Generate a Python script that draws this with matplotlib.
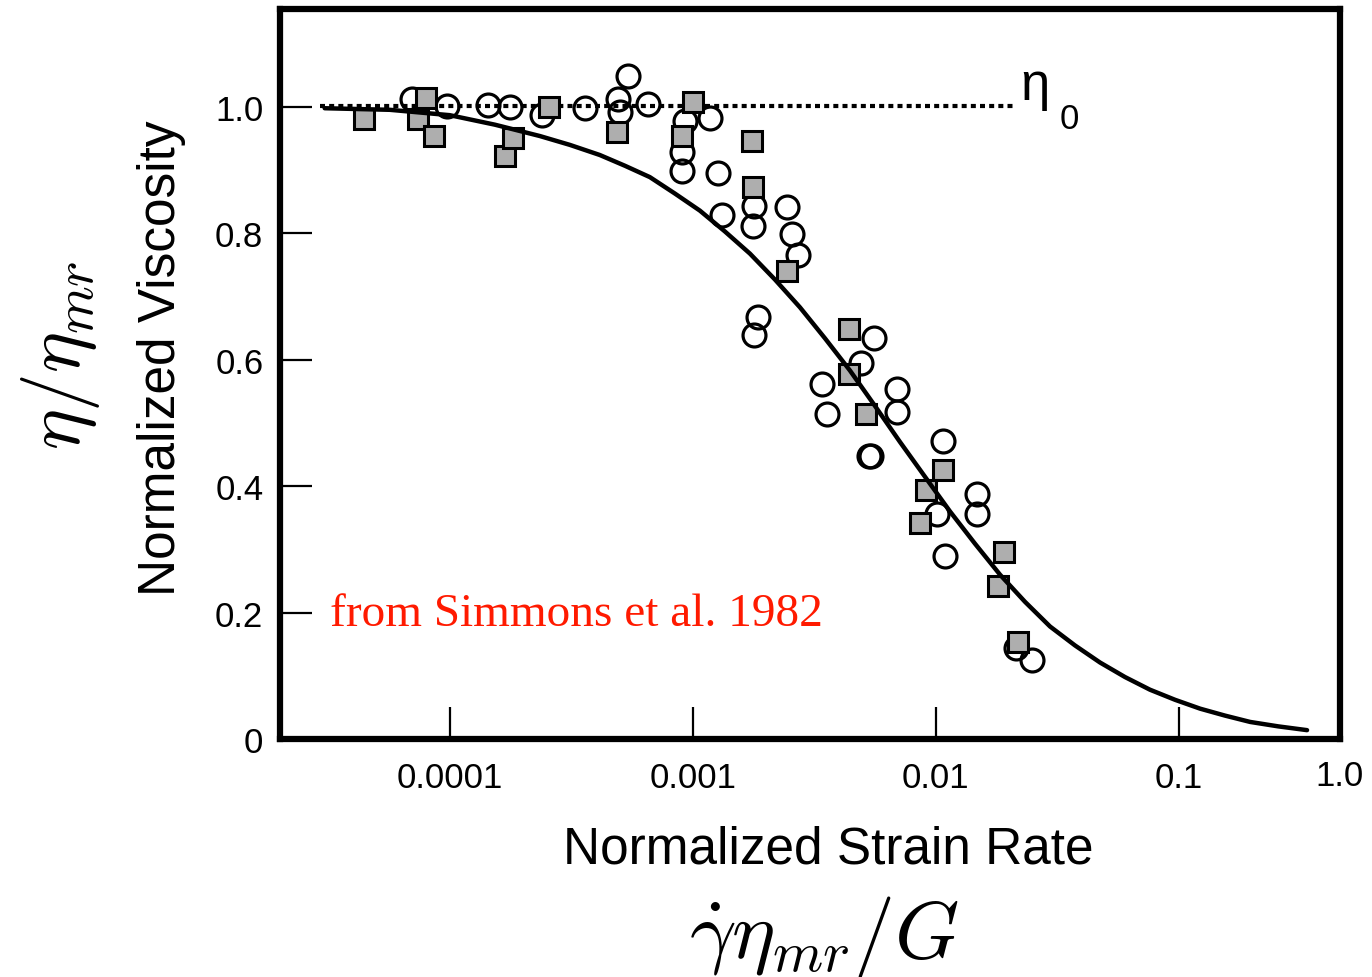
import matplotlib
matplotlib.use("Agg")
import matplotlib.pyplot as plt
import matplotlib.transforms as mtransforms

plt.rcParams['font.family'] = ['Liberation Sans', 'DejaVu Sans']
plt.rcParams['mathtext.fontset'] = 'cm'

# open circles
circ_x = [6.95e-5, 9.68e-5, 1.43e-4, 1.76e-4, 2.38e-4, 3.58e-4, 5.39e-4, 4.90e-4,
          5.0e-4, 6.52e-4, 9.25e-4, 1.17e-3, 9.0e-4, 9.0e-4, 1.27e-3, 1.32e-3,
          1.78e-3, 1.77e-3, 2.44e-3, 2.55e-3, 2.70e-3, 1.85e-3, 1.78e-3, 5.56e-3,
          4.91e-3, 3.40e-3, 3.56e-3, 6.92e-3, 6.92e-3, 5.30e-3, 5.40e-3, 0.0107,
          0.0101, 0.01478, 0.01478, 0.0109, 0.0214, 0.0249]
circ_y = [1.013, 1.002, 1.003, 1.000, 0.987, 0.998, 1.049, 1.013,
          0.992, 1.005, 0.978, 0.983, 0.929, 0.899, 0.896, 0.829,
          0.843, 0.812, 0.842, 0.799, 0.766, 0.668, 0.639, 0.634,
          0.595, 0.562, 0.514, 0.554, 0.517, 0.448, 0.448, 0.472,
          0.356, 0.388, 0.356, 0.290, 0.144, 0.125]

# grey squares
sq_x = [4.41e-5, 7.93e-5, 7.35e-5, 8.56e-5, 1.68e-4, 1.81e-4, 2.55e-4, 4.86e-4,
        9.99e-4, 9.0e-4, 1.75e-3, 1.77e-3, 2.44e-3, 4.39e-3, 4.39e-3, 5.15e-3,
        0.0107, 9.1e-3, 8.61e-3, 0.0191, 0.0180, 0.0218]
sq_y = [0.981, 1.014, 0.981, 0.954, 0.922, 0.951, 1.000, 0.960,
        1.008, 0.954, 0.946, 0.873, 0.741, 0.649, 0.578, 0.514,
        0.426, 0.394, 0.342, 0.296, 0.242, 0.153]

# fitted curve
fit_x = [3.04e-5, 5.64e-5, 9.96e-5, 1.526e-4, 2.34e-4, 3.11e-4, 4.13e-4, 5.24e-4,
         6.64e-4, 8.42e-4, 1.067e-3, 1.353e-3, 1.715e-3, 2.174e-3, 2.756e-3,
         3.494e-3, 4.429e-3, 5.615e-3, 7.117e-3, 9.02e-3, 0.01144, 0.0145,
         0.01838, 0.0233, 0.02954, 0.03744, 0.04746, 0.06016, 0.0762, 0.0967,
         0.1226, 0.1553, 0.197, 0.257, 0.338]
fit_y = [0.998, 0.9955, 0.987, 0.972, 0.954, 0.940, 0.924, 0.907,
         0.889, 0.863, 0.836, 0.803, 0.768, 0.727, 0.683,
         0.634, 0.583, 0.527, 0.470, 0.415, 0.360, 0.309,
         0.260, 0.217, 0.178, 0.148, 0.121, 0.098, 0.078, 0.062,
         0.048, 0.037, 0.027, 0.020, 0.014]

eta0_x = [2.9e-5, 0.0212]
eta0_y = [1.002, 1.002]

xticks = [1e-4, 1e-3, 1e-2, 1e-1]
xticklabels = ['0.0001', '0.001', '0.01', '0.1']
yticks = [0, 0.2, 0.4, 0.6, 0.8, 1.0]
yticklabels = ['0', '0.2', '0.4', '0.6', '0.8', '1.0']

fig = plt.figure(figsize=(13.72, 9.78), dpi=100)
ax = fig.add_axes([280/1372, 1-740/978, 1060/1372, 730/978])
ax.set_xscale('log')
ax.set_xlim(1.99e-5, 0.462)
ax.set_ylim(0, 1.155)

ax.plot(eta0_x, eta0_y, color='black', lw=3, linestyle=(0, (1.2, 1.0)), zorder=2)
ax.plot(circ_x, circ_y, 'o', ms=16.5, mfc='none', mec='black', mew=2.3, zorder=3)
ax.plot(sq_x, sq_y, 's', ms=14, mfc='#aeaeae', mec='black', mew=2.2, zorder=4)
ax.plot(fit_x, fit_y, color='black', lw=3.2, zorder=5,
        solid_capstyle='round', solid_joinstyle='round')

ax.set_xticks(xticks)
ax.set_xticklabels(xticklabels)
ax.minorticks_off()
ax.set_yticks(yticks)
ax.set_yticklabels(yticklabels)
ax.tick_params(axis='x', direction='in', length=23, width=1.6, labelsize=25, pad=16)
ax.tick_params(axis='y', direction='in', length=23, width=1.6, labelsize=25, pad=12)
for s in ax.spines.values():
    s.set_linewidth(4.5)

# last x label sits on the right edge of the frame
trans = mtransforms.blended_transform_factory(ax.transAxes, ax.transAxes)
ax.text(1.0, -0.05, '1.0', transform=trans, ha='center', va='center', fontsize=25)

# eta_0 label
ax.text(0.0222, 1.035, 'η', fontsize=38, ha='left', va='center')
ax.text(0.0325, 0.982, '0', fontsize=25, ha='left', va='center')

fig.text(330/1372, 1-615/978, 'from Simmons et al. 1982', color='#ff1a00',
         fontsize=34, family='Liberation Serif', ha='left', va='center')

fig.text(162/1372, 1-358/978, 'Normalized Viscosity', rotation=90,
         fontsize=37, ha='center', va='center')
fig.text(828/1372, 1-850/978, 'Normalized Strain Rate',
         fontsize=37, ha='center', va='center')
fig.text(61/1372, 1-355/978, r'$\eta/\eta_{mr}$', rotation=90,
         fontsize=56, ha='center', va='center')
fig.text(824/1372, 1-937/978, r'$\dot{\gamma}\eta_{mr}/G$',
         fontsize=59, ha='center', va='center')

fig.savefig('out.png', dpi=100)
